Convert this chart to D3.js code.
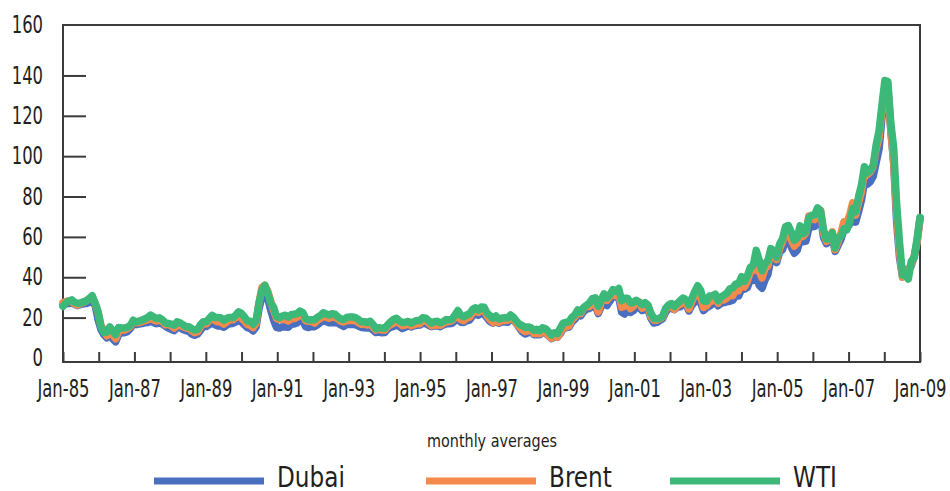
<!DOCTYPE html>
<html>
<head>
<meta charset="utf-8">
<script src="https://cdn.jsdelivr.net/npm/d3@7"></script>
<style>
  html, body { margin: 0; padding: 0; background: #fff; }
  svg { display: block; }
  text { font-family: "DejaVu Sans Condensed", "Liberation Sans Narrow", sans-serif; fill: #231f20; }
</style>
</head>
<body>
<svg id="chart" width="950" height="491"></svg>
<script>
// Monthly average crude prices, $/bbl, Jan-85 .. Jun-09 (one row per year)
const dubai = [
  26.5, 26.8, 27.0, 27.2, 26.5, 26.0, 26.5, 26.8, 27.0, 27.5, 28.0, 26.0,
  19.0, 14.0, 11.5, 10.0, 11.5, 9.5, 8.0, 11.5, 12.5, 12.5, 13.0, 14.5,
  16.8, 16.5, 16.8, 17.0, 17.5, 17.6, 18.2, 17.5, 17.0, 17.4, 16.8, 15.8,
  14.8, 14.2, 13.5, 15.0, 15.2, 14.0, 13.6, 13.2, 11.8, 11.2, 11.8, 13.6,
  15.8, 15.6, 16.5, 17.6, 16.4, 15.8, 15.8, 15.2, 16.3, 17.0, 17.1, 17.8,
  18.7, 17.8, 16.5, 15.0, 14.6, 13.4, 15.3, 24.2, 30.3, 32.3, 29.4, 23.8,
  18.8, 15.2, 14.8, 15.5, 15.3, 15.2, 16.7, 16.8, 17.3, 18.6, 18.5, 15.4,
  15.1, 15.6, 15.5, 16.4, 17.6, 18.4, 18.0, 17.4, 17.5, 17.6, 17.2, 16.4,
  15.6, 16.6, 16.6, 16.7, 16.4, 15.8, 15.1, 15.0, 14.8, 15.0, 13.8, 12.6,
  12.8, 12.5, 12.6, 14.3, 15.2, 15.6, 16.4, 15.5, 14.6, 15.2, 16.1, 15.3,
  15.9, 16.2, 16.3, 17.3, 17.0, 16.2, 15.5, 15.8, 16.0, 15.5, 16.4, 16.9,
  16.9, 17.2, 18.4, 19.5, 17.7, 17.6, 18.4, 18.8, 20.8, 22.0, 21.1, 22.2,
  21.7, 19.8, 18.0, 17.3, 18.3, 17.2, 17.8, 17.8, 17.7, 19.1, 18.7, 17.1,
  14.9, 13.0, 11.9, 12.5, 13.0, 11.5, 11.6, 11.5, 12.8, 12.2, 11.0, 9.6,
  10.6, 10.2, 12.0, 14.5, 15.0, 15.3, 17.8, 19.2, 21.2, 20.8, 23.0, 24.2,
  24.5, 25.5, 25.8, 22.0, 25.5, 27.0, 26.0, 28.2, 30.8, 30.1, 30.0, 22.7,
  21.8, 24.4, 22.6, 23.4, 25.0, 25.0, 23.5, 24.2, 23.9, 19.7, 17.3, 17.6,
  18.5, 19.4, 22.6, 24.3, 24.6, 23.9, 25.1, 25.3, 26.7, 26.6, 23.3, 26.1,
  27.8, 29.8, 27.3, 23.5, 24.9, 25.7, 26.6, 27.6, 25.9, 27.1, 27.4, 27.9,
  28.1, 28.6, 30.8, 30.7, 34.2, 34.1, 34.9, 38.9, 38.4, 42.4, 36.1, 34.5,
  38.6, 41.5, 49.0, 50.2, 47.3, 52.5, 53.7, 58.4, 58.9, 54.9, 51.9, 53.3,
  58.0, 57.6, 57.9, 64.4, 65.0, 65.1, 69.5, 69.7, 59.8, 56.7, 57.7, 59.5,
  52.8, 55.8, 58.9, 63.5, 64.6, 66.3, 70.6, 67.3, 72.6, 78.2, 87.0, 86.1,
  87.4, 90.0, 96.8, 103.4, 119.0, 130.5, 133.0, 112.9, 96.7, 67.4, 49.7, 40.5,
  43.9, 43.1, 45.6, 50.1, 57.5, 69.4
];

const brent = [
  27.5, 28.0, 28.3, 27.8, 26.8, 26.3, 27.0, 27.5, 28.3, 29.5, 30.0, 27.0,
  22.5, 16.0, 13.5, 11.0, 13.0, 11.5, 9.5, 13.0, 14.0, 13.8, 14.5, 15.5,
  18.2, 17.5, 17.6, 18.0, 18.6, 18.9, 19.8, 18.8, 18.3, 18.8, 18.1, 16.5,
  16.7, 15.9, 14.8, 16.0, 16.2, 15.5, 14.9, 14.8, 13.5, 12.5, 13.0, 15.4,
  17.2, 16.9, 18.7, 20.3, 18.5, 17.9, 17.8, 16.8, 17.9, 19.1, 18.9, 19.9,
  21.2, 19.8, 18.4, 16.6, 16.3, 15.1, 17.2, 27.2, 34.9, 36.0, 33.1, 28.3,
  23.6, 19.5, 19.1, 19.2, 19.1, 18.3, 19.4, 19.6, 20.2, 21.9, 21.1, 18.4,
  18.2, 18.1, 17.3, 18.7, 19.6, 20.8, 20.2, 19.7, 20.3, 20.2, 19.3, 18.2,
  17.8, 18.6, 18.7, 18.6, 18.5, 17.6, 16.7, 16.9, 16.3, 16.9, 15.3, 13.8,
  14.4, 13.8, 13.8, 15.6, 16.5, 17.2, 18.3, 17.3, 16.0, 16.3, 17.7, 15.9,
  16.5, 17.1, 17.0, 18.6, 18.4, 17.3, 15.9, 16.2, 16.4, 16.2, 17.1, 17.9,
  18.1, 18.5, 19.9, 20.8, 19.0, 18.5, 19.7, 20.2, 22.2, 23.7, 22.6, 23.8,
  23.5, 20.9, 19.1, 17.6, 19.2, 17.6, 18.6, 18.6, 18.7, 20.4, 19.2, 17.2,
  15.4, 14.0, 13.0, 13.4, 14.6, 12.1, 12.1, 12.0, 13.4, 12.9, 11.0, 9.8,
  11.1, 10.3, 12.5, 15.3, 15.3, 15.9, 19.0, 20.3, 22.5, 22.0, 24.6, 25.6,
  25.5, 27.8, 27.5, 22.8, 27.6, 29.8, 28.6, 30.5, 33.1, 30.9, 32.6, 25.1,
  25.6, 27.5, 24.5, 25.6, 28.1, 27.8, 24.6, 25.7, 25.6, 20.5, 18.8, 18.7,
  19.4, 20.3, 23.7, 25.7, 25.4, 24.1, 25.7, 26.6, 28.4, 27.5, 24.3, 28.0,
  31.2, 32.8, 30.3, 25.0, 25.8, 27.6, 28.4, 29.8, 27.1, 29.6, 28.8, 29.8,
  31.2, 30.9, 33.8, 33.4, 37.9, 35.2, 38.2, 42.7, 43.2, 49.8, 43.1, 39.6,
  44.5, 45.5, 53.1, 51.9, 48.7, 54.3, 57.5, 64.1, 62.9, 58.5, 55.4, 56.9,
  63.0, 60.2, 62.1, 70.3, 69.8, 68.6, 73.7, 73.2, 62.0, 57.8, 58.8, 62.5,
  53.7, 57.6, 62.1, 67.5, 67.2, 71.1, 76.9, 70.8, 77.2, 82.3, 92.4, 90.9,
  92.2, 95.0, 103.6, 109.1, 122.8, 135.0, 135.5, 113.2, 97.2, 71.6, 52.5, 40.0,
  43.4, 43.3, 46.5, 50.2, 57.3, 68.6
];

const wti = [
  25.6, 27.3, 28.2, 28.8, 27.6, 27.1, 27.3, 27.8, 28.3, 29.5, 30.8, 27.2,
  22.9, 15.5, 12.6, 12.8, 15.4, 13.4, 11.6, 15.1, 14.9, 14.9, 15.2, 16.1,
  18.7, 17.8, 18.3, 18.7, 19.4, 20.1, 21.3, 20.3, 19.5, 19.9, 18.9, 17.3,
  17.1, 16.8, 16.2, 17.9, 17.4, 16.5, 15.5, 15.5, 14.5, 13.8, 14.1, 16.4,
  18.0, 17.9, 19.5, 21.1, 20.1, 20.1, 19.8, 18.6, 19.6, 20.1, 19.9, 21.1,
  22.9, 22.1, 20.4, 18.4, 18.2, 16.7, 18.5, 27.3, 33.5, 36.0, 32.3, 27.3,
  25.2, 20.5, 19.9, 20.8, 21.2, 20.2, 21.4, 21.7, 21.9, 23.2, 22.5, 19.5,
  18.8, 19.0, 18.9, 20.2, 21.0, 22.4, 21.8, 21.3, 21.9, 21.7, 20.3, 19.4,
  19.0, 20.1, 20.3, 20.3, 20.0, 19.1, 17.9, 18.0, 17.5, 18.2, 16.6, 14.5,
  15.0, 14.8, 14.7, 16.4, 17.9, 19.1, 19.7, 18.4, 17.5, 17.7, 18.1, 17.2,
  18.0, 18.6, 18.5, 19.9, 19.7, 18.5, 17.3, 18.0, 18.2, 17.4, 18.0, 19.0,
  18.9, 19.1, 21.3, 23.5, 21.2, 20.4, 21.3, 21.9, 24.0, 24.9, 23.7, 25.2,
  25.1, 22.2, 21.0, 19.7, 20.8, 19.3, 19.7, 20.0, 19.8, 21.3, 20.2, 18.3,
  16.7, 16.1, 15.1, 15.4, 14.9, 13.7, 14.2, 13.5, 15.0, 14.5, 13.0, 11.4,
  12.5, 12.0, 14.7, 17.3, 17.7, 17.9, 20.1, 21.3, 23.8, 22.7, 25.0, 26.1,
  27.3, 29.4, 29.8, 25.7, 28.8, 31.8, 29.7, 31.3, 33.9, 33.1, 34.4, 28.4,
  29.6, 29.6, 27.3, 27.5, 28.6, 27.6, 26.4, 27.4, 26.2, 22.2, 19.6, 19.4,
  19.7, 20.7, 24.5, 26.2, 27.0, 25.5, 27.0, 28.4, 29.7, 28.8, 26.4, 29.5,
  33.0, 35.8, 33.5, 28.2, 28.1, 30.7, 30.8, 31.6, 28.3, 30.3, 31.1, 32.1,
  34.3, 34.7, 36.7, 36.8, 40.3, 38.0, 40.8, 44.9, 45.9, 53.3, 48.5, 43.2,
  46.8, 48.2, 54.2, 53.0, 49.8, 56.4, 59.0, 65.0, 65.6, 62.3, 58.3, 59.4,
  65.5, 61.6, 62.7, 69.4, 70.8, 71.0, 74.4, 73.0, 63.8, 58.9, 59.1, 62.0,
  54.5, 59.3, 60.4, 64.0, 63.5, 67.5, 74.1, 72.4, 79.9, 85.8, 94.8, 91.7,
  92.9, 95.4, 105.5, 112.6, 125.4, 137.5, 137.0, 116.7, 104.1, 76.6, 57.3, 41.1,
  41.7, 39.1, 47.9, 49.7, 59.0, 69.6
];

const seriesNames = ["Dubai", "Brent", "WTI"];
const seriesColors = ["#4a6fbf", "#f58a4c", "#3cb878"];

// yearly tick marks, every other one labelled
const xTickLabels = [
  "Jan-85", "Jan-86", "Jan-87", "Jan-88", "Jan-89", "Jan-90", "Jan-91", "Jan-92",
  "Jan-93", "Jan-94", "Jan-95", "Jan-96", "Jan-97", "Jan-98", "Jan-99", "Jan-00",
  "Jan-01", "Jan-02", "Jan-03", "Jan-04", "Jan-05", "Jan-06", "Jan-07", "Jan-08", "Jan-09"
];
const yTickValues = [0, 20, 40, 60, 80, 100, 120, 140, 160];

const svg = d3.select("#chart");

const plot = { left: 63, top: 25, right: 920, bottom: 362 };
// the original typeface is a narrow one: squeeze the fallback horizontally
const squeeze = 0.76;
const legendSqueeze = 0.92;

const x = d3.scaleLinear().domain([0, wti.length - 1]).range([plot.left, plot.right]);
const xTicks = d3.scalePoint().domain(xTickLabels).range([plot.left, plot.right]);
const y = d3.scaleLinear().domain([-2, 165]).range([plot.bottom, plot.top]);

// Frame
svg.append("rect")
  .attr("x", plot.left)
  .attr("y", plot.top)
  .attr("width", plot.right - plot.left)
  .attr("height", plot.bottom - plot.top)
  .attr("fill", "none")
  .attr("stroke", "#3c3c3c")
  .attr("stroke-width", 2);

// Y axis
const yAxis = svg.append("g")
  .attr("transform", `translate(${plot.left},0)`)
  .call(d3.axisLeft(y).tickValues(yTickValues).tickSize(-23).tickPadding(20).tickFormat(d3.format("d")));
yAxis.select(".domain").remove();
yAxis.selectAll(".tick line")
  .attr("stroke", "#3c3c3c")
  .attr("stroke-width", 2)
  .attr("display", (d) => (d === 0 || d === 160 ? "none" : null));
yAxis.selectAll(".tick text")
  .attr("font-size", 24)
  .attr("fill", "#231f20")
  .attr("x", -20 / squeeze)
  // top label sits level with the frame, as in the original
  .attr("y", (d) => (d === 160 ? plot.top - y(160) : 0))
  .attr("transform", `scale(${squeeze},1)`);

// X axis
const xAxis = svg.append("g")
  .attr("transform", `translate(0,${plot.bottom})`)
  .call(d3.axisBottom(xTicks).tickSize(-10).tickSizeOuter(0)
    .tickFormat((d, i) => (i % 2 === 0 ? d : "")));
xAxis.select(".domain").remove();
xAxis.selectAll(".tick line").attr("stroke", "#3c3c3c").attr("stroke-width", 2);
xAxis.selectAll(".tick text")
  .attr("font-size", 24)
  .attr("fill", "#231f20")
  .attr("y", 35)
  .attr("dy", 0)
  .attr("transform", `scale(${squeeze},1)`);

// Lines
const line = d3.line()
  .x((d, i) => x(i))
  .y((d) => y(d))
  .curve(d3.curveLinear);

const seriesData = [dubai, brent, wti];

svg.append("g")
  .selectAll("path")
  .data(seriesData)
  .join("path")
  .attr("d", line)
  .attr("fill", "none")
  .attr("stroke", (d, i) => seriesColors[i])
  .attr("stroke-width", 7.5)
  .attr("stroke-linejoin", "round")
  .attr("stroke-linecap", "round");

// Legend
svg.append("text")
  .attr("y", 447)
  .attr("text-anchor", "middle")
  .attr("font-size", 17)
  .attr("transform", "scale(0.94,1)")
  .attr("x", 492 / 0.94)
  .text("monthly averages");

const legendX = d3.scaleOrdinal().domain(seriesNames).range([154, 426, 670]);

const legendItem = svg.append("g")
  .selectAll("g")
  .data(seriesNames)
  .join("g")
  .attr("transform", (d) => `translate(${legendX(d)},481)`);

legendItem.append("line")
  .attr("x1", 0)
  .attr("x2", 110)
  .attr("stroke", (d, i) => seriesColors[i])
  .attr("stroke-width", 7);

legendItem.append("text")
  .attr("x", 123 / legendSqueeze)
  .attr("y", 6)
  .attr("font-size", 28)
  .attr("transform", `scale(${legendSqueeze},1)`)
  .text((d) => d);
</script>
</body>
</html>
